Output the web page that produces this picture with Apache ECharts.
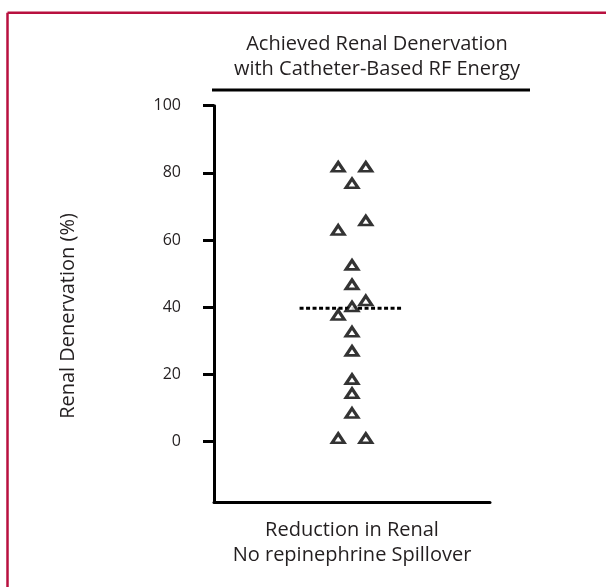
<!DOCTYPE html>
<html>
<head>
<meta charset="utf-8">
<script src="https://cdn.jsdelivr.net/npm/echarts@6/dist/echarts.min.js"></script>
<style>html,body{margin:0;padding:0;background:#fff;overflow:hidden;}#c{width:609px;height:587px;}</style>
</head>
<body>
<div id="c"></div>
<script>
// Data
const xPositions = [0.45, 0.55, 0.5, 0.55, 0.45, 0.5, 0.5, 0.55, 0.5, 0.45, 0.5, 0.5, 0.5, 0.5, 0.5, 0.45, 0.55];
const denervation = [81.8, 81.8, 76.9, 65.8, 63.0, 52.6, 46.8, 42.0, 40.2, 37.7, 32.7, 27.0, 18.6, 14.4, 8.5, 1.0, 1.0];
const meanValue = 39.7;
const meanSpan = [0.31, 0.68];
const yTicks = [0, 20, 40, 60, 80, 100];
const titleLines = ['Achieved Renal Denervation', 'with Catheter-Based RF Energy'];
const xLabelLines = ['Reduction in Renal', 'No repinephrine Spillover'];
const yLabel = 'Renal Denervation (%)';

const points = denervation.map((v, i) => [xPositions[i], v]);
const FONT = 'Open Sans';
const TXT = '#231f20';

const chart = echarts.init(document.getElementById('c'), null, {renderer: 'canvas'});
chart.setOption({
  animation: false,
  backgroundColor: '#fff',
  title: {
    text: titleLines.join('\n'),
    left: 372, top: 27,
    textAlign: 'center',
    textStyle: {fontFamily: FONT, fontSize: 20, fontWeight: 'normal', color: TXT, lineHeight: 25}
  },
  grid: {left: 214, right: 119, top: 105.7, bottom: 85, outerBoundsMode: 'none', containLabel: false},
  xAxis: {
    type: 'value', min: 0, max: 1,
    axisLine: {show: true, onZero: false, lineStyle: {color: '#000', width: 3}},
    axisTick: {show: false}, axisLabel: {show: false}, splitLine: {show: false},
    name: xLabelLines.join('\n'),
    nameLocation: 'middle', nameGap: 16,
    nameTextStyle: {fontFamily: FONT, fontSize: 20, color: TXT, lineHeight: 25}
  },
  yAxis: {
    type: 'value', min: -18, max: 100,
    axisLine: {show: true, onZero: false, lineStyle: {color: '#000', width: 3}},
    axisTick: {show: true, inside: false, length: 11, lineStyle: {color: '#000', width: 3}, customValues: yTicks},
    axisLabel: {margin: 33, fontFamily: FONT, fontSize: 16, color: TXT, customValues: yTicks},
    splitLine: {show: false}
  },
  graphic: [
    {type: 'line', shape: {x1: 7.5, y1: 12.8, x2: 606, y2: 12.8}, style: {stroke: '#b8103f', lineWidth: 2.5}, silent: true},
    {type: 'line', shape: {x1: 7.5, y1: 12.8, x2: 7.5, y2: 587}, style: {stroke: '#b8103f', lineWidth: 2.5}, silent: true},
    {type: 'line', shape: {x1: 212, y1: 90, x2: 530, y2: 90}, style: {stroke: '#000', lineWidth: 3}},
    {type: 'text', x: 68, y: 316, rotation: Math.PI / 2,
      style: {text: yLabel, fontFamily: FONT, fontSize: 20, fill: TXT, align: 'center', verticalAlign: 'middle'}}
  ],
  series: [
    {
      type: 'scatter', data: points, z: 3,
      symbol: 'triangle', symbolSize: [12, 9],
      itemStyle: {color: '#fff', borderColor: '#000', borderWidth: 3}
    },
    {
      type: 'line', data: [[meanSpan[0], meanValue], [meanSpan[1], meanValue]],
      symbol: 'none', z: 1,
      lineStyle: {color: '#000', width: 3, type: [4, 2.5]}
    }
  ]
});
</script>
</body>
</html>
